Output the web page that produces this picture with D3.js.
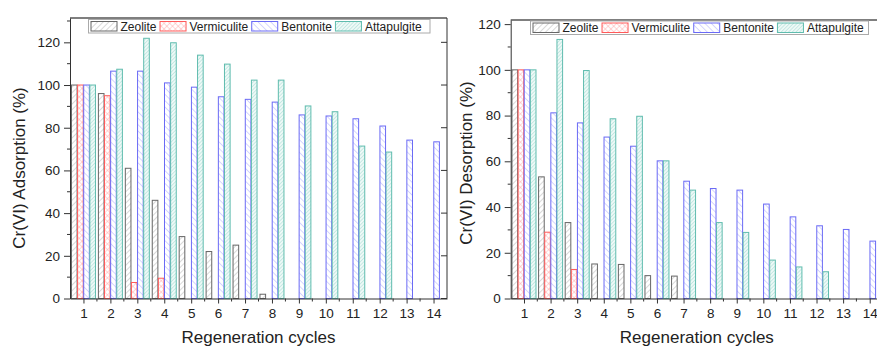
<!DOCTYPE html>
<html>
<head>
<meta charset="utf-8">
<script src="https://cdn.jsdelivr.net/npm/d3@7"></script>
<style>
  body { margin: 0; background: #fff; }
  svg { display: block; font-family: "Liberation Sans", Arial, sans-serif; }
</style>
</head>
<body>
<svg id="chart" width="877" height="347"></svg>
<script>
const cycles = [1,2,3,4,5,6,7,8,9,10,11,12,13,14];
const seriesNames = ['Zeolite','Vermiculite','Bentonite','Attapulgite'];
const yTicks = [0,20,40,60,80,100,120];

// adsorption (left panel)
const adsZeolite     = [100,96,61,46,29,22,25,2,null,null,null,null,null,null];
const adsVermiculite = [100,95,7.5,9.5,null,null,null,null,null,null,null,null,null,null];
const adsBentonite   = [100,106.5,106.5,101,99,94.5,93.3,92,86,85.5,84.2,80.8,74.2,73.4];
const adsAttapulgite = [100,107.4,121.9,119.8,114,109.8,102.3,102.3,90.2,87.5,71.4,68.6,null,null];

// desorption (right panel)
const desZeolite     = [100,53.2,33.2,15.1,14.9,10,9.8,null,null,null,null,null,null,null];
const desVermiculite = [100,29,12.7,null,null,null,null,null,null,null,null,null,null,null];
const desBentonite   = [100,81.2,76.8,70.6,66.6,60.2,51.3,48.1,47.4,41.3,35.7,31.8,30.2,25.1];
const desAttapulgite = [100,113.3,99.7,78.6,79.7,60.2,47.4,33.2,28.9,16.8,13.8,11.7,null,null];

const colors = ['#666666','#ff5a5a','#6a6af5','#5fbcae'];
const svg = d3.select('#chart');
const defs = svg.append('defs');

function hatch(id, color, size, angle, cross, bg){
  const p = defs.append('pattern').attr('id',id)
    .attr('patternUnits','userSpaceOnUse')
    .attr('width',size).attr('height',size)
    .attr('patternTransform',`rotate(${angle})`);
  p.append('rect').attr('width',size).attr('height',size).attr('fill',bg);
  p.append('line').attr('x1',0).attr('y1',0).attr('x2',0).attr('y2',size)
    .attr('stroke',color).attr('stroke-width',0.8);
  if(cross){
    p.append('line').attr('x1',0).attr('y1',0).attr('x2',size).attr('y2',0)
      .attr('stroke',color).attr('stroke-width',0.8);
  }
}
hatch('p0', '#a0a0a0', 4, 45, false, '#fff');
hatch('p1', '#ff9a9a', 4, 45, true, '#fff');
hatch('p2', '#9a9aff', 4.5, -45, false, '#fff');
hatch('p3', '#8fd3c8', 2.6, 45, false, '#eef9f7');

function drawPanel(o){
  const x = d3.scaleLinear().domain([0.5,14.5]).range([o.left, o.right]);
  const y = d3.scaleLinear().domain([0,o.ymax]).range([o.bottom, o.top]);
  const g = svg.append('g');
  const sub = d3.scaleBand().domain(seriesNames).range([-12,12]).paddingInner(0.08);

  o.series.forEach((vals,si)=>{
    g.append('g').selectAll('rect')
      .data(cycles.map((c,i)=>({c, v: vals[i]})).filter(d=>d.v!=null))
      .enter().append('rect')
      .attr('x', d=>x(d.c)+sub(seriesNames[si]))
      .attr('width', sub.bandwidth())
      .attr('y', d=>y(d.v))
      .attr('height', d=>y(0)-y(d.v))
      .attr('fill', `url(#p${si})`)
      .attr('stroke', colors[si])
      .attr('stroke-width', 1);
  });

  // frame
  g.append('line').attr('x1',o.left).attr('x2',o.right).attr('y1',o.top).attr('y2',o.top)
    .attr('stroke','#555').attr('stroke-width',1.5);
  g.append('line').attr('x1',o.right).attr('x2',o.right).attr('y1',o.top).attr('y2',o.bottom)
    .attr('stroke','#333');
  g.selectAll('line.rt').data(yTicks).enter().append('line').attr('class','rt')
    .attr('x1',o.right).attr('x2',o.right-6).attr('y1',d=>y(d)).attr('y2',d=>y(d))
    .attr('stroke','#333');

  // minor ticks
  const yMinor = d3.range(10, o.ymax, 20);
  g.selectAll('line.ym').data(yMinor).enter().append('line').attr('class','ym')
    .attr('x1',o.left).attr('x2',o.left-3).attr('y1',d=>y(d)).attr('y2',d=>y(d))
    .attr('stroke','#333');
  const xMinor = cycles.map(c=>c+0.5).filter(c=>x(c)<o.right);
  g.selectAll('line.xm').data(xMinor).enter().append('line').attr('class','xm')
    .attr('y1',o.bottom).attr('y2',o.bottom+3).attr('x1',d=>x(d)).attr('x2',d=>x(d))
    .attr('stroke','#333');

  const ya = g.append('g').attr('transform',`translate(${o.left},0)`)
    .call(d3.axisLeft(y).tickValues(yTicks).tickSize(6).tickSizeOuter(0).tickPadding(4));
  const xa = g.append('g').attr('transform',`translate(0,${o.bottom})`)
    .call(d3.axisBottom(x).tickValues(cycles).tickSize(5).tickSizeOuter(0).tickPadding(5));
  [ya,xa].forEach(a=>{
    a.selectAll('path,line').attr('stroke','#333');
    a.selectAll('text').attr('font-size',13.5).attr('fill','#222')
      .attr('font-family','"Liberation Sans", Arial, sans-serif');
  });

  g.append('text').attr('x',(o.left+o.right)/2).attr('y',343)
    .attr('text-anchor','middle').attr('font-size',17).attr('fill','#222')
    .text('Regeneration cycles');
  g.append('text').attr('transform',`translate(${o.ytx},${o.yty}) rotate(-90)`)
    .attr('text-anchor','middle').attr('font-size',17).attr('fill','#222')
    .text(o.ylabel);

  // legend
  const lg = g.append('g');
  lg.append('rect').attr('x',o.lx).attr('y',o.ly).attr('width',o.lw).attr('height',13.5)
    .attr('fill','#fff').attr('stroke','#aaa');
  let cx = o.lx + 2.5;
  seriesNames.forEach((n,si)=>{
    lg.append('rect').attr('x',cx).attr('y',o.ly+2).attr('width',26).attr('height',9.5)
      .attr('fill',`url(#p${si})`).attr('stroke',colors[si]);
    const t = lg.append('text').attr('x',cx+29.5).attr('y',o.ly+11)
      .attr('font-size',12).attr('fill','#222').text(n);
    cx += 29.5 + t.node().getComputedTextLength() + 3.5;
  });
}

drawPanel({
  left:70, right:447, top:18, bottom:298.5, ymax:131.4,
  series:[adsZeolite, adsVermiculite, adsBentonite, adsAttapulgite],
  ylabel:'Cr(VI) Adsorption (%)', ytx:25, yty:168,
  lx:88.5, ly:19.5, lw:341.5
});
drawPanel({
  left:510.7, right:883, top:20, bottom:298.5, ymax:121.8,
  series:[desZeolite, desVermiculite, desBentonite, desAttapulgite],
  ylabel:'Cr(VI) Desorption (%)', ytx:472, yty:163,
  lx:530.5, ly:21, lw:338
});
</script>
</body>
</html>
